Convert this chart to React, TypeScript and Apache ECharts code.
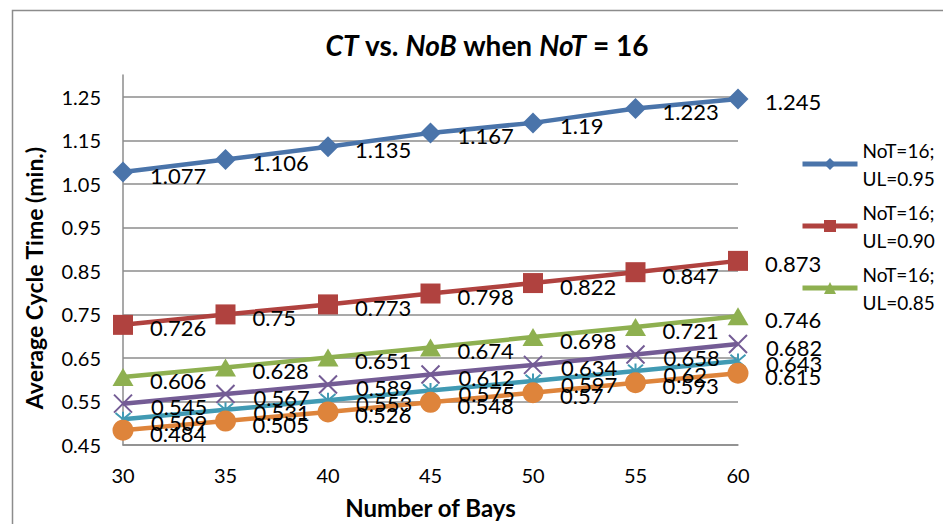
import React, { useEffect, useRef } from "react";
import * as echarts from "echarts";

// Number of bays on the x axis
const bays = [30, 35, 40, 45, 50, 55, 60];

// Average cycle time (min.) per utilisation level, NoT = 16
const ul095 = [1.077, 1.106, 1.135, 1.167, 1.19, 1.223, 1.245];
const ul090 = [0.726, 0.75, 0.773, 0.798, 0.822, 0.847, 0.873];
const ul085 = [0.606, 0.628, 0.651, 0.674, 0.698, 0.721, 0.746];
const ul080 = [0.545, 0.567, 0.589, 0.612, 0.634, 0.658, 0.682];
const ul075 = [0.509, 0.531, 0.553, 0.575, 0.597, 0.62, 0.643];
const ul070 = [0.484, 0.505, 0.526, 0.548, 0.57, 0.593, 0.615];

const seriesNames = [
  "NoT=16;\nUL=0.95",
  "NoT=16;\nUL=0.90",
  "NoT=16;\nUL=0.85",
  "NoT=16;\nUL=0.80",
  "NoT=16;\nUL=0.75",
  "NoT=16;\nUL=0.70",
];

const FONT = "Lato, 'Open Sans', sans-serif";

const X_MARK = "path://M0,0 L10,10 M10,0 L0,10";
const STAR_MARK = "path://M0,0 L10,10 M10,0 L0,10 M5,-1 L5,11";

type SeriesDef = {
  name: string;
  values: number[];
  color: string;
  symbol: string;
  size: number | number[];
  open?: boolean;
};

const defs: SeriesDef[] = [
  { name: seriesNames[0], values: ul095, color: "#4A74AA", symbol: "diamond", size: 21 },
  { name: seriesNames[1], values: ul090, color: "#B0423F", symbol: "rect", size: 20 },
  { name: seriesNames[2], values: ul085, color: "#8EB050", symbol: "triangle", size: [21, 18] },
  { name: seriesNames[3], values: ul080, color: "#745C95", symbol: X_MARK, size: 18, open: true },
  { name: seriesNames[4], values: ul075, color: "#419AB3", symbol: STAR_MARK, size: 15, open: true },
  { name: seriesNames[5], values: ul070, color: "#DE843B", symbol: "circle", size: 21 },
];

export default function App() {
  const ref = useRef<HTMLDivElement>(null);

  useEffect(() => {
    if (!ref.current) return;
    const chart = echarts.init(ref.current, undefined, { renderer: "svg" });

    const series = defs.map((d) => {
      const half = Array.isArray(d.size) ? d.size[0] / 2 : d.size / 2;
      return {
        type: "line",
        name: d.name,
        data: bays.map((b, i) => [b, d.values[i]]),
        symbol: d.symbol,
        symbolSize: d.size,
        showAllSymbol: true,
        lineStyle: { color: d.color, width: 4.5 },
        itemStyle: d.open
          ? { color: "rgba(0,0,0,0)", borderColor: d.color, borderWidth: 2 }
          : { color: d.color },
        emphasis: { disabled: true },
        label: {
          show: true,
          position: "right",
          distance: 27 - half,
          offset: [0, 3],
          color: "#000",
          fontFamily: FONT,
          fontSize: 22,
          formatter: (p: any) => String(p.value[1]),
        },
      };
    });

    chart.setOption({
      animation: false,
      backgroundColor: "#fff",
      title: {
        text: "{i|CT} vs. {i|NoB} when {i|NoT} = 16",
        left: 482,
        top: 26,
        textAlign: "center",
        textStyle: {
          fontFamily: FONT,
          fontWeight: "bold",
          fontSize: 28,
          color: "#000",
          rich: {
            i: { fontFamily: FONT, fontWeight: "bold", fontStyle: "italic", fontSize: 28, color: "#000" },
          },
        },
      },
      legend: {
        orient: "vertical",
        left: 795,
        top: 117,
        itemWidth: 55,
        itemHeight: 15,
        itemGap: -22,
        data: seriesNames.slice(0, 3),
        lineStyle: { width: 5 },
        textStyle: {
          fontFamily: FONT,
          fontSize: 19,
          lineHeight: 28,
          color: "#000",
          padding: [28, 0, 0, 0],
        },
      },
      grid: { left: 123, right: 205, top: 75, bottom: 75 },
      xAxis: {
        type: "value",
        min: 30,
        max: 60,
        interval: 5,
        name: "Number of Bays",
        nameLocation: "middle",
        nameGap: 50,
        nameTextStyle: { fontFamily: FONT, fontWeight: "bold", fontSize: 24, color: "#000" },
        axisLine: { lineStyle: { color: "#8c8c8c", width: 1.5 } },
        axisTick: { show: false },
        splitLine: { show: false },
        axisLabel: { fontFamily: FONT, fontSize: 20, color: "#000", margin: 20 },
      },
      yAxis: {
        type: "value",
        min: 0.45,
        max: 1.3,
        interval: 0.1,
        name: "Average Cycle Time (min.)",
        nameLocation: "middle",
        nameGap: 78,
        nameTextStyle: {
          fontFamily: FONT,
          fontWeight: "bold",
          fontSize: 23,
          color: "#000",
          padding: [0, 36, 0, 0],
        },
        axisLine: { show: true, lineStyle: { color: "#8c8c8c", width: 1.5 } },
        axisTick: { show: false },
        splitLine: { show: true, showMaxLine: false, lineStyle: { color: "#8c8c8c", width: 1.5 } },
        axisLabel: {
          fontFamily: FONT,
          fontSize: 20,
          color: "#000",
          margin: 22,
          showMaxLabel: false,
          formatter: (v: number) => v.toFixed(2),
        },
      },
      graphic: [
        {
          type: "rect",
          left: 10,
          top: 8,
          shape: { width: 1000, height: 1000 },
          style: { fill: "none", stroke: "#8c8c8c", lineWidth: 1.5 },
          silent: true,
          z: -1,
        },
      ],
      series,
    });

    return () => chart.dispose();
  }, []);

  return (
    <div
      ref={ref}
      style={{ position: "fixed", left: 0, top: 0, width: 943, height: 524 }}
    />
  );
}
